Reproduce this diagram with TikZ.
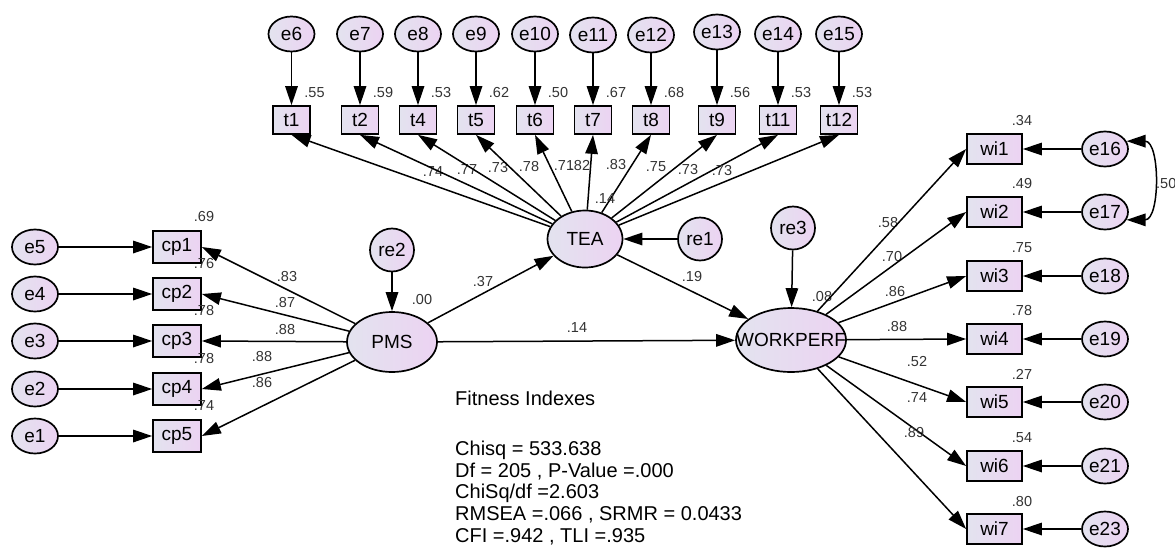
\documentclass[tikz,border=0pt]{standalone}
\usepackage{fontspec}
\setmainfont{Liberation Sans}
\usetikzlibrary{shapes.geometric,arrows.meta}
\definecolor{lavA}{HTML}{E3E3EF}
\definecolor{lavB}{HTML}{ECD3F2}
\definecolor{valc}{HTML}{333333}
\newcommand{\zlbl}[1]{\makebox[0pt][c]{#1}}
\begin{document}
\begin{tikzpicture}[x=1pt,y=-1pt,
  lat/.style={ellipse, draw=black, line width=1.7pt, left color=lavA, right color=lavB,
              inner sep=0pt, font=\fontsize{19}{19}\selectfont},
  errn/.style={lat, minimum width=46pt, minimum height=35pt},
  resn/.style={lat, minimum width=44pt, minimum height=43pt},
  obs/.style={rectangle, draw=black, line width=1.7pt, left color=lavA, right color=lavB,
              inner sep=0pt, font=\fontsize{19}{19}\selectfont},
  tbox/.style={obs, minimum width=37pt, minimum height=28pt},
  cpbox/.style={obs, minimum width=48pt, minimum height=32pt},
  wibox/.style={obs, minimum width=55pt, minimum height=30pt},
  val/.style={font=\fontsize{14.5}{14.5}\selectfont, text=valc, inner sep=0pt},
  pth/.style={line width=1.5pt, -{Triangle[length=19pt,width=12.5pt]}},
  covp/.style={line width=1.5pt, {Triangle[length=19pt,width=12.5pt]}-{Triangle[length=19pt,width=12.5pt]}},
  fit/.style={font=\fontsize{20}{20}\selectfont, anchor=base west, inner sep=0pt}
]
\useasboundingbox (0,0) rectangle (1175,552);

% ---------- TEA block ----------
\node[lat, minimum width=75pt, minimum height=57pt] (TEA) at (585,239) {\zlbl{TEA}};
\node[resn] (re1) at (700,239) {\zlbl{re1}};

\foreach \e/\t/\x/\ey/\r/\l/\lx/\ly in {
  6/1/291.5/34/.55/.74/433/172,
  7/2/360/34/.59/.77/467/170,
  8/4/418/34/.53/.73/498/168,
  9/5/476/34/.62/.78/529/167,
  10/6/535/34/.50/.71/564/166,
  11/7/593/35/.67/.82/580/166,
  12/8/651/35/.68/.83/616/165,
  13/9/717/32/.56/.75/656/167,
  14/11/778/34/.53/.73/688/170,
  15/12/839/34/.53/.73/722/171}{
  \node[errn] (e\e) at (\x,\ey) {\zlbl{e\e}};
  \node[tbox] (t\t) at (\x,120) {t\t};
  \node[val] (rt\t) at (\x+23,93) {\r};
  \node[val] (lt\t) at (\lx,\ly) {\l};
  \draw[pth] (e\e) -- (t\t);
  \draw[pth] (TEA) -- (t\t.south);
}
\node[val] (rTEA) at (605,199) {.14};
\draw[pth] (re1) -- (TEA);

% ---------- PMS block ----------
\node[lat, minimum width=90pt, minimum height=60pt] (PMS) at (392,342) {\zlbl{PMS}};
\node[resn] (re2) at (392,250) {\zlbl{re2}};
\node[val] (rPMS) at (422,300) {.00};
\draw[pth] (re2) -- (PMS);

\foreach \e/\c/\y/\r/\l/\lx/\ly in {
  5/1/247/.69/.83/287/277,
  4/2/294/.76/.87/285/303,
  3/3/341/.78/.88/285/330,
  2/4/389/.78/.88/262/357,
  1/5/436/.74/.86/262/383}{
  \node[errn] (e\e) at (35,\y) {\zlbl{e\e}};
  \node[cpbox] (cp\c) at (177,\y) {cp\c};
  \node[val] (rcp\c) at (204,\y-30) {\r};
  \node[val] (lcp\c) at (\lx,\ly) {\l};
  \draw[pth] (e\e) -- (cp\c);
  \draw[pth] (PMS) -- (cp\c.east);
}

% ---------- WORKPERF block ----------
\node[lat, minimum width=110pt, minimum height=64pt] (WP) at (791,340) {\zlbl{WORKPERF}};
\node[resn] (re3) at (793,228) {\zlbl{re3}};
\node[val] (rWP) at (822,297) {.08};
\draw[pth] (re3) -- (WP);

\foreach \e/\w/\y/\r/\l/\lx/\ly in {
  16/1/149/.34/.58/888/223,
  17/2/212/.49/.70/892/257,
  18/3/276/.75/.86/895/292,
  19/4/339/.78/.88/897/327,
  20/5/402/.27/.52/917/362,
  21/6/466/.54/.74/917/398,
  23/7/529/.80/.89/914/433}{
  \node[errn] (e\e) at (1105,\y) {\zlbl{e\e}};
  \node[wibox] (wi\w) at (994.5,\y) {wi\w};
  \node[val] (rwi\w) at (1022,\y-28) {\r};
  \node[val] (lwi\w) at (\lx,\ly) {\l};
  \draw[pth] (e\e) -- (wi\w);
  \draw[pth] (WP) -- (wi\w.west);
}
\draw[covp] (e16.20) to[out=0,in=0,looseness=1.1] (e17.-20);
\node[val, anchor=west] (c1617) at (1156,184) {.50};

% ---------- structural paths ----------
\draw[pth] (PMS) -- (TEA);
\draw[pth] (PMS) -- (WP);
\draw[pth] (TEA) -- (WP);
\node[val] (lPT) at (483,282) {.37};
\node[val] (lPW) at (577,328) {.14};
\node[val] (lTW) at (692,277) {.19};

% ---------- fit indexes ----------
\node[fit] (f0) at (455,405) {Fitness Indexes};
\node[fit] (f1) at (455,455) {Chisq = 533.638};
\node[fit] (f2) at (455,477) {Df = 205 , P-Value =.000};
\node[fit] (f3) at (455,498) {ChiSq/df =2.603};
\node[fit] (f4) at (455,520) {RMSEA =.066 , SRMR = 0.0433};
\node[fit] (f5) at (455,542) {CFI =.942 , TLI =.935};
\end{tikzpicture}
\end{document}
